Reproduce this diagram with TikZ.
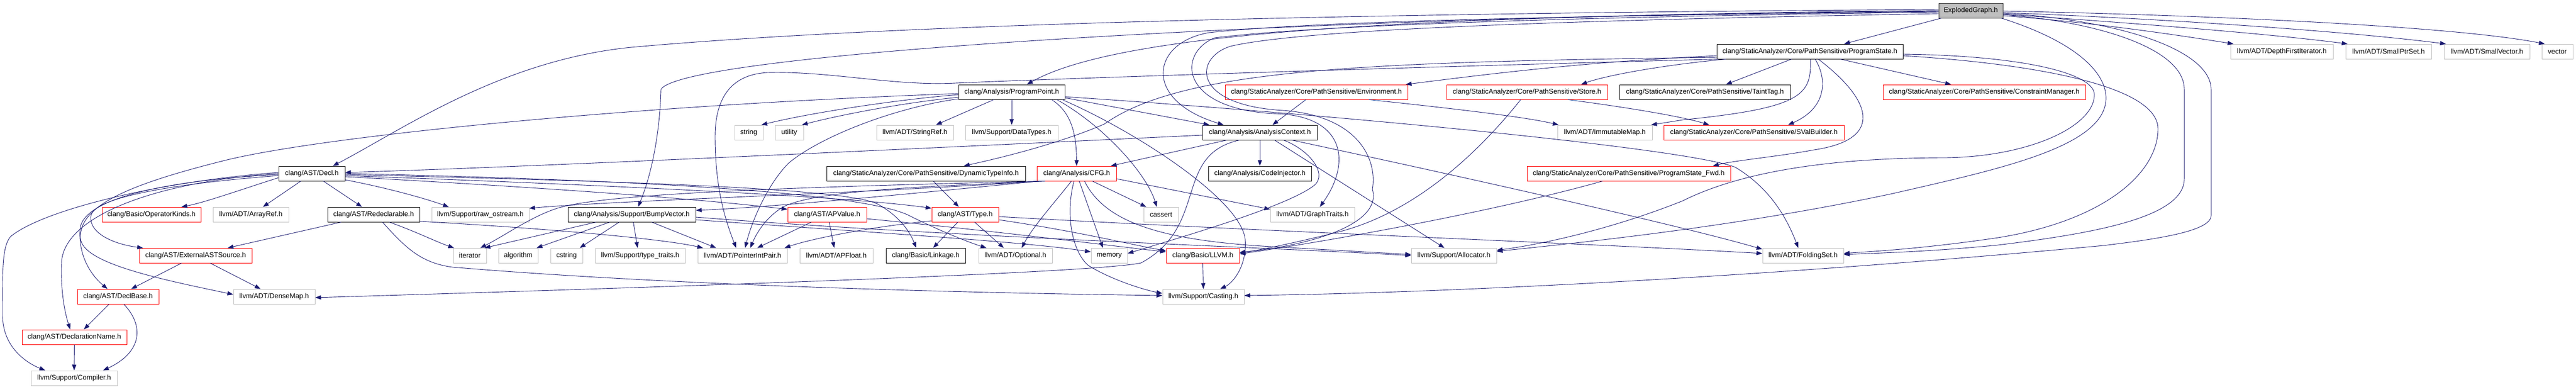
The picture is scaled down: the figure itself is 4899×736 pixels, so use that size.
\documentclass[tikz,border=0pt]{standalone}
\usepackage{fontspec}
\setmainfont{Liberation Sans}
\usetikzlibrary{arrows.meta}
\definecolor{edgecol}{HTML}{191970}
\definecolor{nodegray}{HTML}{BFBFBF}
\definecolor{nodered}{HTML}{FF0000}
\newcommand\nodefont{\fontsize{13.2}{15}\selectfont}
\begin{document}
\begin{tikzpicture}[x=1pt,y=-1pt,
  nd/.style={rectangle, minimum height=28pt, inner sep=0pt, line width=1pt, font=\nodefont, fill=white},
  blk/.style={nd, draw=black},
  gry/.style={nd, draw=nodegray},
  rnd/.style={nd, draw=nodered},
  root/.style={nd, draw=black!80, fill=nodegray},
  e/.style={draw=edgecol, line width=0.9pt, -{Triangle[length=11pt,width=8pt]}}]
\fill[white] (0,0) rectangle (4899,736);
\useasboundingbox (0,0) rectangle (4899,736);
% ---------- nodes ----------
\node[root, minimum width=122pt] (EG) at (3748,20) {ExplodedGraph.h};
\node[blk, minimum width=354pt] (PS) at (3442,98) {clang/StaticAnalyzer/Core/PathSensitive/ProgramState.h};
\node[gry, minimum width=195pt] (DFI) at (4339.5,98) {llvm/ADT/DepthFirstIterator.h};
\node[gry, minimum width=163pt] (SPS) at (4542.5,98) {llvm/ADT/SmallPtrSet.h};
\node[gry, minimum width=163pt] (SV) at (4729.5,98) {llvm/ADT/SmallVector.h};
\node[gry, minimum width=59pt] (VEC) at (4863.5,98) {vector};
\node[blk, minimum width=202pt] (PP) at (1924,175) {clang/Analysis/ProgramPoint.h};
\node[rnd, minimum width=347pt] (ENV) at (2503.5,175) {clang/StaticAnalyzer/Core/PathSensitive/Environment.h};
\node[rnd, minimum width=306pt] (STORE) at (2904,175) {clang/StaticAnalyzer/Core/PathSensitive/Store.h};
\node[blk, minimum width=325pt] (TAINT) at (3242.5,175) {clang/StaticAnalyzer/Core/PathSensitive/TaintTag.h};
\node[rnd, minimum width=385pt] (CM) at (3773.5,175) {clang/StaticAnalyzer/Core/PathSensitive/ConstraintManager.h};
\node[gry, minimum width=54pt] (STR) at (1424,252) {string};
\node[gry, minimum width=54pt] (UTIL) at (1501,252) {utility};
\node[gry, minimum width=146pt] (SREF) at (1740,252) {llvm/ADT/StringRef.h};
\node[gry, minimum width=176pt] (DT) at (1924,252) {llvm/Support/DataTypes.h};
\node[blk, minimum width=218pt] (AC) at (2396,252) {clang/Analysis/AnalysisContext.h};
\node[gry, minimum width=180pt] (IMAP) at (3052,252) {llvm/ADT/ImmutableMap.h};
\node[rnd, minimum width=343pt] (SVB) at (3335.5,252) {clang/StaticAnalyzer/Core/PathSensitive/SValBuilder.h};
\node[blk, minimum width=126pt] (DECL) at (593,330) {clang/AST/Decl.h};
\node[blk, minimum width=378pt] (DTI) at (1761,330) {clang/StaticAnalyzer/Core/PathSensitive/DynamicTypeInfo.h};
\node[rnd, minimum width=151pt] (CFG) at (2047.5,330) {clang/Analysis/CFG.h};
\node[blk, minimum width=196pt] (CI) at (2396,330) {clang/Analysis/CodeInjector.h};
\node[rnd, minimum width=387pt] (PSF) at (3097.5,330) {clang/StaticAnalyzer/Core/PathSensitive/ProgramState\_Fwd.h};
\node[rnd, minimum width=188pt] (OPK) at (288,408) {clang/Basic/OperatorKinds.h};
\node[gry, minimum width=144pt] (AREF) at (477,408) {llvm/ADT/ArrayRef.h};
\node[blk, minimum width=175pt] (REDECL) at (710.5,408) {clang/AST/Redeclarable.h};
\node[gry, minimum width=185pt] (RAW) at (913.5,408) {llvm/Support/raw\_ostream.h};
\node[blk, minimum width=243pt] (BV) at (1201.5,408) {clang/Analysis/Support/BumpVector.h};
\node[rnd, minimum width=150pt] (APV) at (1573,408) {clang/AST/APValue.h};
\node[rnd, minimum width=127pt] (TYPE) at (1835.5,408) {clang/AST/Type.h};
\node[gry, minimum width=66pt] (CASSERT) at (2208,408) {cassert};
\node[gry, minimum width=160pt] (GT) at (2496,408) {llvm/ADT/GraphTraits.h};
\node[rnd, minimum width=214pt] (EAS) at (372,486) {clang/AST/ExternalASTSource.h};
\node[gry, minimum width=63pt] (ITER) at (893.5,486) {iterator};
\node[gry, minimum width=75pt] (ALGO) at (985.5,486) {algorithm};
\node[gry, minimum width=61pt] (CSTR) at (1077.5,486) {cstring};
\node[gry, minimum width=171pt] (TT) at (1217.5,486) {llvm/Support/type\_traits.h};
\node[gry, minimum width=170pt] (PIP) at (1412,486) {llvm/ADT/PointerIntPair.h};
\node[gry, minimum width=139pt] (APF) at (1590.5,486) {llvm/ADT/APFloat.h};
\node[blk, minimum width=151pt] (LINK) at (1760.5,486) {clang/Basic/Linkage.h};
\node[gry, minimum width=140pt] (OPT) at (1931,486) {llvm/ADT/Optional.h};
\node[gry, minimum width=69pt] (MEM) at (2109.5,486) {memory};
\node[rnd, minimum width=139pt] (LLVMH) at (2287.5,486) {clang/Basic/LLVM.h};
\node[gry, minimum width=162pt] (ALLOC) at (2765,486) {llvm/Support/Allocator.h};
\node[gry, minimum width=154pt] (FS) at (3429,486) {llvm/ADT/FoldingSet.h};
\node[rnd, minimum width=155pt] (DB) at (224.5,564) {clang/AST/DeclBase.h};
\node[gry, minimum width=155pt] (DM) at (521.5,564) {llvm/ADT/DenseMap.h};
\node[gry, minimum width=155pt] (CAST) at (2288.5,564) {llvm/Support/Casting.h};
\node[rnd, minimum width=199pt] (DN) at (141.5,641) {clang/AST/DeclarationName.h};
\node[gry, minimum width=164pt] (COMP) at (141,719) {llvm/Support/Compiler.h};
% ---------- edges: ExplodedGraph ----------
\draw[e] ([xshift=-56pt]EG.south) -- ([xshift=65pt]PS.north);
\draw[e] ([yshift=-10pt]EG.east) .. controls (3950,40) and (4100,60) .. ([xshift=-92pt]DFI.north);
\draw[e] ([yshift=-7pt]EG.east) .. controls (4000,40) and (4300,62) .. ([xshift=-78pt]SPS.north);
\draw[e] ([yshift=-4pt]EG.east) .. controls (4100,35) and (4450,58) .. ([xshift=-78pt]SV.north);
\draw[e] ([yshift=-1pt]EG.east) .. controls (4250,30) and (4680,52) .. ([xshift=-24pt]VEC.north);
\draw[e] ([yshift=-1pt]EG.west) .. controls (2800,30) and (2150,50) .. ([xshift=29pt]PP.north);
\draw[e] ([yshift=2pt]EG.west) .. controls (2600,25) and (1700,45) .. (1200,90) .. controls (950,115) and (760,250) .. ([xshift=40pt]DECL.north);
\draw[e] (EG.west) .. controls (2500,30) and (1300,100) .. (1257,170) .. controls (1255,250) and (1240,330) .. ([xshift=12pt]BV.north);
\draw[e] ([yshift=-2pt]EG.west) .. controls (3000,30) and (2500,40) .. (2300,62) .. controls (2190,80) and (2170,190) .. ([xshift=-69pt]AC.north);
\draw[e] ([yshift=-3pt]EG.west) .. controls (3000,32) and (2500,48) .. (2310,72) .. controls (2240,100) and (2240,205) .. (2420,216) .. controls (2560,218) and (2570,310) .. ([xshift=14pt]GT.north);
\draw[e] ([yshift=-6pt]EG.west) .. controls (3000,38) and (2480,55) .. (2340,88) .. controls (2270,110) and (2265,200) .. (2440,210) .. controls (2580,220) and (2620,300) .. (2610,360) .. controls (2630,430) and (2480,468) .. ([yshift=6pt]LLVMH.east);
\draw[e] ([xshift=58pt]EG.south) .. controls (3950,80) and (4008,140) .. (4005,190) .. controls (4000,280) and (3800,322) .. (3600,368) .. controls (3300,432) and (3000,462) .. ([yshift=8pt]ALLOC.east);
\draw[e] ([yshift=-8pt]EG.east) .. controls (3980,40) and (4154,90) .. (4154,170) -- (4154,340) .. controls (4154,410) and (4000,442) .. (3800,466) .. controls (3680,478) and (3580,481) .. ([yshift=2pt]FS.east);
\draw[e] ([yshift=-5pt]EG.east) .. controls (4050,40) and (4205,100) .. (4205,170) -- (4205,410) .. controls (4205,440) and (4100,455) .. (4000,467) .. controls (3300,532) and (2700,558) .. ([yshift=2pt]CAST.east);
% ---------- ProgramState ----------
\draw[e] ([xshift=58pt]PS.south) -- ([xshift=-63pt]CM.north);
\draw[e] ([xshift=-35pt]PS.south) -- ([xshift=40pt]TAINT.north);
\draw[e] ([xshift=10pt]PS.south) .. controls (3475,150) and (3475,205) .. ([xshift=65pt]SVB.north);
\draw[e] ([xshift=16pt]PS.south) .. controls (3560,190) and (3585,265) .. (3450,285) .. controls (3380,298) and (3300,305) .. ([xshift=160pt]PSF.north);
\draw[e] ([xshift=-160pt]PS.south) .. controls (3150,125) and (3050,145) .. ([xshift=103pt]STORE.north);
\draw[e] ([yshift=-8pt]PS.west) .. controls (3000,118) and (2800,145) .. ([xshift=170pt]ENV.north);
\draw[e] ([yshift=-11pt]PS.west) .. controls (2600,118) and (2250,130) .. (2100,236) .. controls (2040,262) and (1950,290) .. ([xshift=72pt]DTI.north);
\draw[e] ([yshift=-8pt]PS.east) .. controls (3850,120) and (4104,160) .. (4104,245) .. controls (4104,330) and (4000,420) .. (3800,452) .. controls (3650,474) and (3560,478) .. ([yshift=4pt]FS.east);
\draw[e] ([xshift=1pt]PS.south) .. controls (3445,180) and (3430,205) .. (3200,228) -- ([xshift=88pt]IMAP.north);
\draw[e] ([xshift=-175pt]PS.south) .. controls (2600,130) and (2000,150) .. (1817,158) .. controls (1700,164) and (1580,135) .. (1460,138) .. controls (1380,142) and (1360,200) .. (1360,260) .. controls (1360,360) and (1380,420) .. ([xshift=-12pt]PIP.north);
\draw[e] ([yshift=-5pt]PS.east) .. controls (3850,106) and (3983,140) .. (3983,180) .. controls (3983,240) and (3860,298) .. (3700,300) .. controls (3500,300) and (3320,322) .. (3200,382) .. controls (3080,430) and (2950,462) .. ([yshift=10pt]ALLOC.east);
% ---------- ProgramPoint ----------
\draw[e] ([yshift=-5pt]PP.west) .. controls (1700,190) and (1540,215) .. ([xshift=24pt]STR.north);
\draw[e] ([yshift=-10pt]PP.west) .. controls (1720,195) and (1600,218) .. ([xshift=24pt]UTIL.north);
\draw[e] ([xshift=-34pt]PP.south) -- ([xshift=40pt]SREF.north);
\draw[e] (PP.south) -- (DT.north);
\draw[e] ([yshift=-11pt]PP.east) -- ([xshift=-96pt]AC.north);
\draw[e] ([xshift=76pt]PP.south) .. controls (2040,215) and (2047,260) .. (CFG.north);
\draw[e] ([xshift=86pt]PP.south) .. controls (2100,240) and (2180,330) .. ([xshift=-8pt]CASSERT.north);
\draw[e] ([xshift=96pt]PP.south) .. controls (2160,250) and (2360,380) .. (2368,455) .. controls (2372,505) and (2345,538) .. ([xshift=32pt]CAST.north);
\draw[e] ([yshift=-9pt]PP.east) .. controls (2500,215) and (3200,280) .. (3300,318) .. controls (3370,360) and (3400,420) .. ([xshift=-9pt]FS.north);
\draw[e] ([yshift=-3pt]PP.west) .. controls (1200,200) and (600,260) .. (420,307) .. controls (250,350) and (150,390) .. (153,453) .. controls (156,500) and (300,530) .. ([yshift=4pt]DM.west);
\draw[e] ([yshift=-13pt]PP.west) .. controls (1700,205) and (1560,260) .. (1500,310) .. controls (1460,350) and (1430,420) .. ([xshift=5pt]PIP.north);
% ---------- Environment / Store / ProgramState_Fwd ----------
\draw[e] ([xshift=-20pt]ENV.south) -- ([xshift=24pt]AC.north);
\draw[e] ([xshift=100pt]ENV.south) .. controls (2750,205) and (2900,222) .. ([xshift=-88pt]IMAP.north);
\draw[e] ([xshift=78pt]STORE.south) .. controls (3100,205) and (3200,222) .. ([xshift=-85pt]SVB.north);
\draw[e] ([xshift=-12pt]STORE.south) .. controls (2820,280) and (2700,400) .. (2550,440) .. controls (2470,460) and (2400,475) .. ([yshift=5pt]LLVMH.east);
\draw[e] ([xshift=-50pt]PSF.south) .. controls (2850,400) and (2550,455) .. ([yshift=3pt]LLVMH.east);
% ---------- AnalysisContext ----------
\draw[e] (AC.south) -- (CI.north);
\draw[e] ([xshift=-63pt]AC.south) -- ([xshift=65pt]CFG.north);
\draw[e] ([yshift=-5pt]AC.west) .. controls (1800,280) and (1000,318) .. ([yshift=2pt]DECL.east);
\draw[e] ([xshift=-39pt]AC.south) .. controls (2230,295) and (2300,430) .. (2170,500) .. controls (2080,520) and (1200,548) .. ([yshift=-2pt]DM.east);
\draw[e] ([xshift=28pt]AC.south) -- ([xshift=-18pt]ALLOC.north);
\draw[e] ([xshift=61pt]AC.south) .. controls (2800,340) and (3200,430) .. ([yshift=12pt]FS.west);
\draw[e] ([xshift=45pt]AC.south) .. controls (2490,285) and (2525,330) .. (2500,352) .. controls (2450,392) and (2250,450) .. ([yshift=4pt]MEM.east);
% ---------- CFG ----------
\draw[e] ([xshift=-72pt]CFG.south) .. controls (1700,372) and (1450,395) .. ([yshift=8pt]BV.east);
\draw[e] ([xshift=-68pt]CFG.south) .. controls (1600,370) and (1200,380) .. ([yshift=12pt]RAW.east);
\draw[e] ([xshift=-64pt]CFG.south) .. controls (1500,356) and (1150,368) .. (1060,396) .. controls (1010,412) and (960,448) .. ([xshift=20pt]ITER.north);
\draw[e] ([xshift=5pt]CFG.south) -- ([xshift=-12pt]MEM.north);
\draw[e] ([xshift=30pt]CFG.south) -- ([xshift=-28pt]CASSERT.north);
\draw[e] ([xshift=-5pt]CFG.south) .. controls (2025,410) and (2040,480) .. (2070,505) .. controls (2110,530) and (2170,550) .. ([yshift=6pt]CAST.west);
\draw[e] ([yshift=-10pt]CFG.east) -- ([yshift=10pt]GT.west);
\draw[e] ([xshift=-10pt]CFG.south) .. controls (2010,380) and (1965,430) .. ([xshift=12pt]OPT.north);
\draw[e] ([xshift=-60pt]CFG.south) .. controls (1750,355) and (1560,362) .. (1492,392) .. controls (1460,410) and (1440,440) .. ([xshift=15pt]PIP.north);
\draw[e] ([xshift=15pt]CFG.south) .. controls (2100,420) and (2200,455) .. (2400,468) -- ([yshift=2pt]ALLOC.west);
% ---------- Decl ----------
\draw[e] ([yshift=-8pt]DECL.west) .. controls (460,360) and (390,385) .. ([xshift=57pt]OPK.north);
\draw[e] ([xshift=-21pt]DECL.south) -- ([xshift=23pt]AREF.north);
\draw[e] ([xshift=22pt]DECL.south) -- ([xshift=-22pt]REDECL.north);
\draw[e] ([yshift=-4pt]DECL.west) .. controls (380,345) and (180,370) .. (173,410) .. controls (168,445) and (220,465) .. ([xshift=-100pt]EAS.north);
\draw[e] ([yshift=-2pt]DECL.west) .. controls (330,342) and (150,375) .. (152,440) .. controls (150,490) and (175,525) .. ([xshift=-20pt]DB.north);
\draw[e] (DECL.west) .. controls (300,345) and (120,410) .. (117,500) .. controls (115,560) and (125,600) .. ([xshift=-8pt]DN.north);
\draw[e] ([yshift=2pt]DECL.west) .. controls (300,345) and (80,400) .. (20,450) .. controls (3,470) and (5,520) .. (5,600) .. controls (5,660) and (50,690) .. ([xshift=-55pt]COMP.north);
\draw[e] ([yshift=-12pt]DECL.east) .. controls (740,358) and (810,378) .. ([xshift=-60pt]RAW.north);
\draw[e] ([yshift=-6pt]DECL.east) .. controls (1000,355) and (1300,375) .. ([yshift=10pt]APV.west);
\draw[e] ([yshift=-4pt]DECL.east) .. controls (1100,350) and (1600,372) .. ([yshift=12pt]TYPE.west);
\draw[e] ([yshift=-2pt]DECL.east) .. controls (1200,345) and (1600,358) .. (1667,387) .. controls (1710,410) and (1730,440) .. ([xshift=-18pt]LINK.north);
\draw[e] (DECL.east) .. controls (1200,342) and (1650,365) .. (1733,412) .. controls (1790,440) and (1840,460) .. ([xshift=-55pt]OPT.north);
% ---------- Redeclarable ----------
\draw[e] ([xshift=-62pt]REDECL.south) -- ([xshift=61pt]EAS.north);
\draw[e] ([xshift=30pt]REDECL.south) .. controls (790,440) and (830,460) .. ([xshift=-30pt]ITER.north);
\draw[e] ([yshift=-13pt]REDECL.east) .. controls (1000,432) and (1250,452) .. ([xshift=-75pt]PIP.north);
\draw[e] ([xshift=17pt]REDECL.south) .. controls (770,470) and (800,500) .. (860,508) .. controls (1300,545) and (1900,558) .. ([yshift=2pt]CAST.west);
% ---------- ExternalASTSource / DeclBase / DeclarationName ----------
\draw[e] ([xshift=-27pt]EAS.south) -- ([xshift=25pt]DB.north);
\draw[e] ([xshift=28pt]EAS.south) -- ([xshift=-26pt]DM.north);
\draw[e] ([xshift=-17pt]DB.south) -- ([xshift=18pt]DN.north);
\draw[e] ([xshift=11pt]DB.south) .. controls (275,620) and (270,670) .. ([xshift=55pt]COMP.north);
\draw[e] (DN.south) -- (COMP.north);
% ---------- BumpVector ----------
\draw[e] ([xshift=-68pt]BV.south) -- ([xshift=28pt]ITER.north);
\draw[e] ([xshift=-42pt]BV.south) -- ([xshift=35pt]ALGO.north);
\draw[e] ([xshift=-24pt]BV.south) -- ([xshift=25pt]CSTR.north);
\draw[e] ([xshift=3pt]BV.south) -- ([xshift=-5pt]TT.north);
\draw[e] ([xshift=38pt]BV.south) -- ([xshift=-50pt]PIP.north);
\draw[e] ([yshift=-5pt]BV.east) .. controls (1800,450) and (2400,470) .. (ALLOC.west);
\draw[e] ([yshift=-10pt]BV.east) .. controls (1700,445) and (1950,460) .. ([yshift=7pt]MEM.west);
% ---------- APValue / Type / DynamicTypeInfo / LLVM.h ----------
\draw[e] ([xshift=-30pt]APV.south) -- ([xshift=28pt]PIP.north);
\draw[e] ([xshift=4pt]APV.south) -- ([xshift=-4pt]APF.north);
\draw[e] ([yshift=-8pt]APV.east) .. controls (1900,440) and (2100,466) .. ([yshift=7pt]LLVMH.west);
\draw[e] ([xshift=-14pt]TYPE.south) -- ([xshift=14pt]LINK.north);
\draw[e] ([xshift=18pt]TYPE.south) -- ([xshift=-22pt]OPT.north);
\draw[e] ([yshift=-12pt]TYPE.west) .. controls (1650,432) and (1540,455) .. ([xshift=80pt]PIP.north);
\draw[e] ([yshift=-4pt]TYPE.east) .. controls (2400,440) and (3000,462) .. ([yshift=4pt]FS.west);
\draw[e] ([yshift=-10pt]TYPE.east) .. controls (2050,440) and (2150,465) .. ([yshift=9pt]LLVMH.west);
\draw[e] ([xshift=14pt]DTI.south) -- ([xshift=-12pt]TYPE.north);
\draw[e] (LLVMH.south) -- (CAST.north);
\end{tikzpicture}
\end{document}
